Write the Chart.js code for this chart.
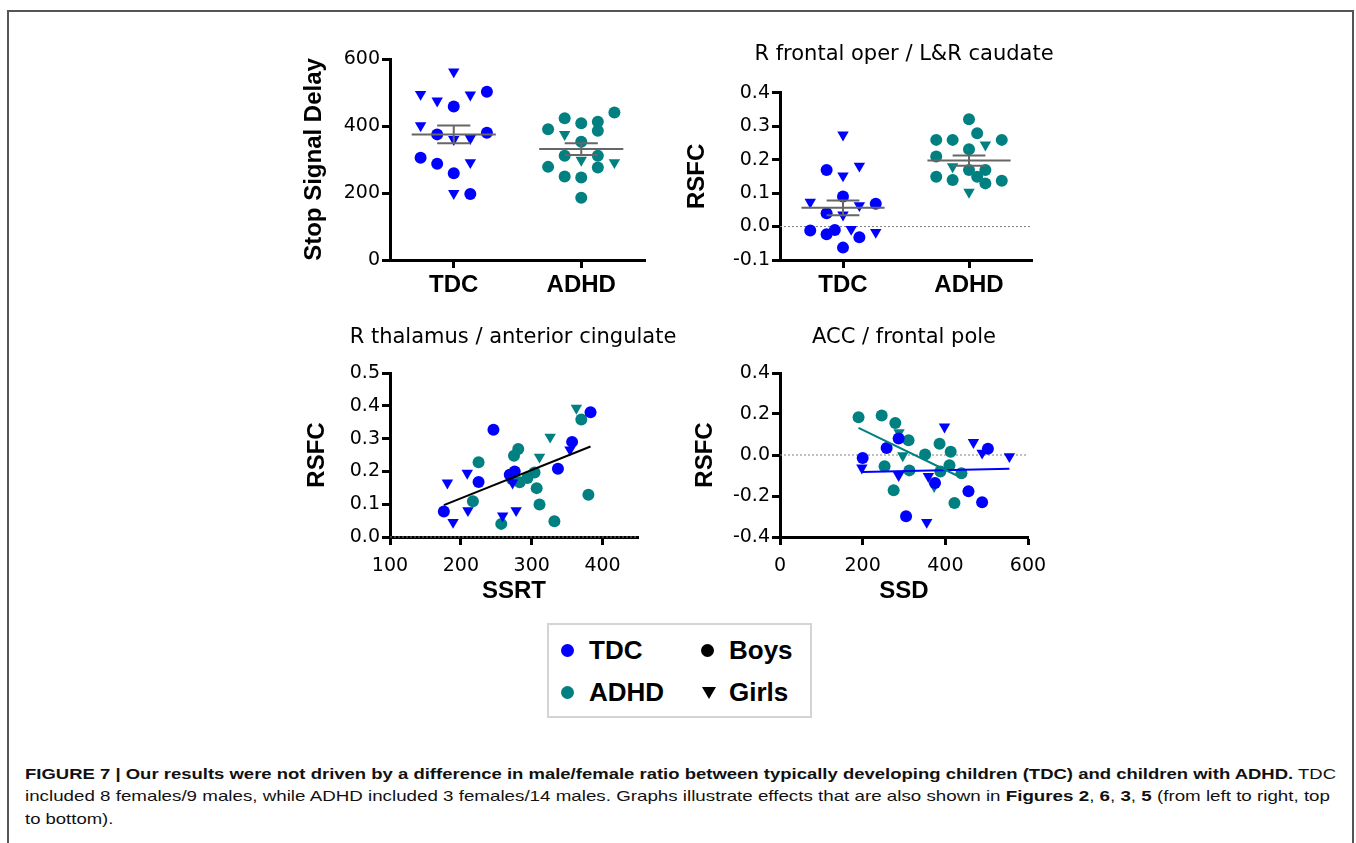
<!DOCTYPE html>
<html>
<head>
<meta charset="utf-8">
<title>Figure 7</title>
<script src="https://cdn.jsdelivr.net/npm/chart.js@4.4.1/dist/chart.umd.min.js"></script>
<style>
  html, body { margin: 0; padding: 0; background: #fff; }
  body { width: 1356px; height: 843px; position: relative; overflow: hidden; }
  .frame { position: absolute; left: 7px; top: 10px; width: 1347px; height: 900px;
           border: 2px solid #555; box-sizing: border-box; }
  canvas.panel { position: absolute; }
  #legend { position: absolute; left: 547px; top: 623px; width: 265px; height: 95px;
            border: 2px solid #d4d4d4; box-sizing: border-box; background: #fff; }
  #legend .dot { position: absolute; width: 13px; height: 13px; border-radius: 50%; }
  #legend .tri { position: absolute; width: 0; height: 0; border-left: 7px solid transparent;
                 border-right: 7px solid transparent; border-top: 12px solid #000; }
  #legend .lab { position: absolute; font: bold 26px/30px 'Liberation Sans', Arial, sans-serif; color: #000; }
  #caption { position: absolute; left: 25px; top: 763px; color: #111;
             font: 15px/22.3px 'Liberation Sans Narrow', 'Arial Narrow', 'Liberation Sans', Arial, sans-serif; }
  #caption .line { display: block; width: max-content; white-space: nowrap; transform-origin: 0 0; }
</style>
</head>
<body>
<div class="frame"></div>

<canvas id="chart-ssd" class="panel" width="370" height="300" style="left:290px;top:20px"></canvas>
<canvas id="chart-fr" class="panel" width="400" height="300" style="left:680px;top:20px"></canvas>
<canvas id="chart-th" class="panel" width="400" height="300" style="left:290px;top:310px"></canvas>
<canvas id="chart-acc" class="panel" width="400" height="300" style="left:680px;top:310px"></canvas>

<div id="legend">
  <span class="dot" style="left:11.5px;top:18.5px;background:#0000ff"></span>
  <span class="lab" style="left:40px;top:10px">TDC</span>
  <span class="dot" style="left:151.5px;top:18.5px;background:#000"></span>
  <span class="lab" style="left:180px;top:10px">Boys</span>
  <span class="dot" style="left:11.5px;top:60.5px;background:#008080"></span>
  <span class="lab" style="left:40px;top:52px">ADHD</span>
  <span class="tri" style="left:153px;top:62px"></span>
  <span class="lab" style="left:180px;top:52px">Girls</span>
</div>

<div id="caption">
  <span class="line"><b>FIGURE 7 | Our results were not driven by a difference in male/female ratio between typically developing children (TDC) and children with ADHD.</b> TDC</span>
  <span class="line">included 8 females/9 males, while ADHD included 3 females/14 males. Graphs illustrate effects that are also shown in <b>Figures 2</b>, <b>6</b>, <b>3</b>, <b>5</b> (from left to right, top</span>
  <span class="line">to bottom).</span>
</div>

<script>
// ── Data ─────────────────────────────────────────────────────────
const groups = ['TDC', 'ADHD'];

// Top left: Stop Signal Delay (slot = column of the dot in its group)
const ssdTdcBoys = [458, 502, 375, 380, 305, 287, 259, 197];
const ssdTdcBoysSlot = [0, 2, -1, 2, -2, -1, 0, 1];
const ssdTdcGirls = [562, 495, 475, 493, 401, 360, 363, 291, 199];
const ssdTdcGirlsSlot = [0, -2, -1, 1, -2, 0, 1, 1, 0];
const ssdAdhdBoys = [423, 408, 413, 440, 390, 386, 353, 311, 311, 278, 276, 249, 246, 186];
const ssdAdhdBoysSlot = [-1, 0, 1, 2, -2, 1, 0, -1, 1, -2, 1, -1, 0, 0];
const ssdAdhdGirls = [375, 298, 291];
const ssdAdhdGirlsSlot = [-1, 0, 2];
const ssdMean = [375, 331];
const ssdSem = [26.5, 17.5];
const ssdTicks = [0, 200, 400, 600];

// Top right: R frontal oper / L&R caudate
const frTdcBoys = [0.169, 0.090, 0.068, 0.040, -0.012, -0.023, -0.010, -0.032, -0.063];
const frTdcBoysSlot = [-1, 0, 2, -1, -2, -1, -0.5, 1, 0];
const frTdcGirls = [0.274, 0.152, 0.181, 0.073, 0.063, 0.035, -0.008, -0.017];
const frTdcGirlsSlot = [0, 0, 1, -2, 1, 0, 0.5, 2];
const frAdhdBoys = [0.321, 0.259, 0.259, 0.279, 0.259, 0.231, 0.209, 0.169, 0.169, 0.149, 0.139, 0.149, 0.129, 0.137];
const frAdhdBoysSlot = [0, -2, -1, 0.5, 2, 0, -2, 0, 1, -2, -1, 0.5, 1, 2];
const frAdhdGirls = [0.244, 0.179, 0.103];
const frAdhdGirlsSlot = [1, -1, 0];
const frMean = [0.056, 0.197];
const frSem = [0.022, 0.015];
const frTicks = [-0.1, 0, 0.1, 0.2, 0.3, 0.4];

// Bottom left: R thalamus / anterior cingulate vs SSRT
const thTdcBoysX = [176, 225, 246, 269, 276, 337, 357, 383];
const thTdcBoysY = [0.078, 0.168, 0.327, 0.19, 0.20, 0.208, 0.29, 0.38];
const thTdcGirlsX = [181, 189, 209, 210, 259, 273, 278, 354];
const thTdcGirlsY = [0.165, 0.045, 0.195, 0.081, 0.065, 0.165, 0.081, 0.266];
const thAdhdBoysX = [217, 225, 257, 272, 275, 281, 283, 294, 304, 307, 311, 332, 370, 380];
const thAdhdBoysY = [0.109, 0.228, 0.04, 0.177, 0.248, 0.268, 0.167, 0.18, 0.197, 0.149, 0.099, 0.048, 0.358, 0.129];
const thAdhdGirlsX = [311, 326, 363];
const thAdhdGirlsY = [0.244, 0.305, 0.393];
const thFitX = [176, 383];
const thFitY = [0.097, 0.276];
const ssrtTicks = [100, 200, 300, 400];
const thTicks = [0, 0.1, 0.2, 0.3, 0.4, 0.5];

// Bottom right: ACC / frontal pole vs SSD
const acTdcBoysX = [200, 258, 287, 305, 375, 456, 489, 503];
const acTdcBoysY = [-0.015, 0.034, 0.08, -0.299, -0.137, -0.177, -0.23, 0.031];
const acTdcGirlsX = [198, 287, 355, 359, 398, 468, 489, 555];
const acTdcGirlsY = [-0.063, -0.099, -0.328, -0.104, 0.137, 0.062, 0.01, -0.007];
const acAdhdBoysX = [190, 246, 253, 275, 279, 311, 313, 351, 386, 388, 410, 413, 422, 439];
const acAdhdBoysY = [0.184, 0.193, -0.055, -0.172, 0.156, 0.072, -0.075, 0.002, 0.055, -0.08, -0.05, 0.016, -0.234, -0.089];
const acAdhdGirlsX = [288, 297, 373];
const acAdhdGirlsY = [0.11, -0.003, -0.153];
const acFitTdcX = [200, 555];
const acFitTdcY = [-0.083, -0.067];
const acFitAdhdX = [190, 428];
const acFitAdhdY = [0.132, -0.10];
const ssdXTicks = [0, 200, 400, 600];
const acTicks = [-0.4, -0.2, 0, 0.2, 0.4];

// ── Styling ──────────────────────────────────────────────────────
const BLUE = '#0000ff';
const TEAL = '#008080';
const GREY = '#666';
const REG = "'DejaVu Sans', sans-serif";
const BOLD = "'Liberation Sans', Arial, sans-serif";
const SLOT = 0.13;        // horizontal step between dot columns
const MEAN_HALF = 0.33;   // half width of mean line
const CAP_HALF = 0.13;    // half width of SEM caps

Chart.defaults.color = '#000';

function xy(xs, ys) {
  return xs.map((x, i) => ({ x, y: ys[i] }));
}

function column(values, slots, g) {
  return values.map((v, i) => ({ x: g + 1 + slots[i] * SLOT, y: v }));
}

function markers(data, color, girl) {
  return {
    data,
    showLine: false,
    pointStyle: girl ? 'triangle' : 'circle',
    pointRotation: girl ? 180 : 0,
    pointRadius: girl ? 6.6 : 6,
    pointBackgroundColor: color,
    pointBorderWidth: 0,
    clip: false,
    order: 1,
  };
}

function segment(data, color, width, dash, order) {
  return {
    data,
    showLine: true,
    borderColor: color,
    borderWidth: width,
    borderDash: dash || [],
    pointRadius: 0,
    clip: false,
    order: order === undefined ? 0 : order,
  };
}

function errorBars(g, mean, sem) {
  const c = g + 1;
  return [
    segment([{ x: c - MEAN_HALF, y: mean }, { x: c + MEAN_HALF, y: mean }], GREY, 2),
    segment([{ x: c - CAP_HALF, y: mean + sem }, { x: c + CAP_HALF, y: mean + sem }], GREY, 2),
    segment([{ x: c - CAP_HALF, y: mean - sem }, { x: c + CAP_HALF, y: mean - sem }], GREY, 2),
    segment([{ x: c, y: mean - sem }, { x: c, y: mean + sem }], GREY, 2),
  ];
}

function zeroLine(x0, x1) {
  return segment([{ x: x0, y: 0 }, { x: x1, y: 0 }], '#808080', 1, [2, 2], 2);
}

function axis(o) {
  const horizontal = o.position === 'bottom';
  return {
    type: 'linear',
    position: o.position,
    min: o.min,
    max: o.max,
    afterBuildTicks: (s) => { s.ticks = o.ticks.map((v) => ({ value: v })); },
    afterFit: (s) => { if (horizontal) s.height = o.size; else s.width = o.size; },
    ticks: {
      callback: o.format,
      font: o.tickFont,
      color: '#000',
      padding: o.tickPad,
      autoSkip: false,
      maxRotation: 0,
    },
    grid: {
      drawOnChartArea: false,
      drawTicks: true,
      tickLength: 8,
      tickWidth: 3,
      tickColor: '#000',
    },
    border: { display: true, color: '#000', width: 3 },
    title: {
      display: !!o.title,
      text: o.title,
      color: '#000',
      font: { family: BOLD, size: 24, weight: 'bold' },
      padding: o.titlePad || 0,
    },
  };
}

// Panel heading, centred over the plot area
const headingPlugin = {
  id: 'panelHeading',
  afterDraw(chart, args, opts) {
    if (!opts.text) return;
    const { ctx, chartArea } = chart;
    ctx.save();
    ctx.font = '21px ' + REG;
    ctx.fillStyle = '#000';
    ctx.textAlign = 'center';
    ctx.textBaseline = 'middle';
    ctx.fillText(opts.text, (chartArea.left + chartArea.right) / 2 + (opts.dx || 0), opts.y);
    ctx.restore();
  },
};

function makeChart(id, datasets, x, y, pad, heading) {
  return new Chart(document.getElementById(id), {
    type: 'scatter',
    data: { datasets },
    plugins: [headingPlugin],
    options: {
      responsive: false,
      animation: false,
      events: [],
      layout: { padding: pad },
      plugins: {
        legend: { display: false },
        tooltip: { enabled: false },
        panelHeading: heading || {},
      },
      scales: { x, y },
    },
  });
}

const tickReg = { family: REG, size: 19 };
const tickBold = { family: BOLD, size: 24, weight: 'bold' };
const groupLabel = (v) => groups[v - 1];
const oneDecimal = (v) => v.toFixed(1);
const plain = (v) => String(v);

// ── Top left ─────────────────────────────────────────────────────
makeChart('chart-ssd', [
  ...errorBars(0, ssdMean[0], ssdSem[0]),
  ...errorBars(1, ssdMean[1], ssdSem[1]),
  markers(column(ssdTdcBoys, ssdTdcBoysSlot, 0), BLUE, false),
  markers(column(ssdTdcGirls, ssdTdcGirlsSlot, 0), BLUE, true),
  markers(column(ssdAdhdBoys, ssdAdhdBoysSlot, 1), TEAL, false),
  markers(column(ssdAdhdGirls, ssdAdhdGirlsSlot, 1), TEAL, true),
],
  axis({ position: 'bottom', min: 0.5, max: 2.5, ticks: [1, 2], format: groupLabel,
         tickFont: tickBold, tickPad: 3, size: 60 }),
  axis({ position: 'left', min: 0, max: 600, ticks: ssdTicks, format: plain,
         tickFont: tickReg, tickPad: 2, size: 100, title: 'Stop Signal Delay',
         titlePad: { top: 9.6 } }),
  { top: 39, right: 15, bottom: 0, left: 0 });

// ── Top right ────────────────────────────────────────────────────
makeChart('chart-fr', [
  ...errorBars(0, frMean[0], frSem[0]),
  ...errorBars(1, frMean[1], frSem[1]),
  markers(column(frTdcBoys, frTdcBoysSlot, 0), BLUE, false),
  markers(column(frTdcGirls, frTdcGirlsSlot, 0), BLUE, true),
  markers(column(frAdhdBoys, frAdhdBoysSlot, 1), TEAL, false),
  markers(column(frAdhdGirls, frAdhdGirlsSlot, 1), TEAL, true),
  zeroLine(0.5, 2.5),
],
  axis({ position: 'bottom', min: 0.5, max: 2.5, ticks: [1, 2], format: groupLabel,
         tickFont: tickBold, tickPad: 3, size: 60 }),
  axis({ position: 'left', min: -0.1, max: 0.4, ticks: frTicks, format: oneDecimal,
         tickFont: tickReg, tickPad: 2, size: 100, title: 'RSFC', titlePad: { top: 2.6 } }),
  { top: 72.7, right: 48, bottom: 0, left: 0 },
  { text: 'R frontal oper / L&R caudate', y: 35, dx: -2 });

// ── Bottom left ──────────────────────────────────────────────────
makeChart('chart-th', [
  segment(xy(thFitX, thFitY), '#000', 2),
  markers(xy(thTdcBoysX, thTdcBoysY), BLUE, false),
  markers(xy(thTdcGirlsX, thTdcGirlsY), BLUE, true),
  markers(xy(thAdhdBoysX, thAdhdBoysY), TEAL, false),
  markers(xy(thAdhdGirlsX, thAdhdGirlsY), TEAL, true),
  zeroLine(100, 450),
],
  axis({ position: 'bottom', min: 100, max: 450, ticks: ssrtTicks, format: plain,
         tickFont: tickReg, tickPad: 10, size: 73, title: 'SSRT', titlePad: { bottom: 4.5 } }),
  axis({ position: 'left', min: 0, max: 0.5, ticks: thTicks, format: oneDecimal,
         tickFont: tickReg, tickPad: 2, size: 100, title: 'RSFC', titlePad: { top: 12.6 } }),
  { top: 63, right: 52, bottom: 0, left: 0 },
  { text: 'R thalamus / anterior cingulate', y: 28, dx: -1 });

// ── Bottom right ─────────────────────────────────────────────────
makeChart('chart-acc', [
  segment(xy(acFitAdhdX, acFitAdhdY), TEAL, 2),
  segment(xy(acFitTdcX, acFitTdcY), BLUE, 2),
  markers(xy(acTdcBoysX, acTdcBoysY), BLUE, false),
  markers(xy(acTdcGirlsX, acTdcGirlsY), BLUE, true),
  markers(xy(acAdhdBoysX, acAdhdBoysY), TEAL, false),
  markers(xy(acAdhdGirlsX, acAdhdGirlsY), TEAL, true),
  zeroLine(0, 600),
],
  axis({ position: 'bottom', min: 0, max: 600, ticks: ssdXTicks, format: plain,
         tickFont: tickReg, tickPad: 10, size: 73, title: 'SSD', titlePad: { bottom: 4.5 } }),
  axis({ position: 'left', min: -0.4, max: 0.4, ticks: acTicks, format: oneDecimal,
         tickFont: tickReg, tickPad: 2, size: 100, title: 'RSFC', titlePad: { top: 10.6 } }),
  { top: 63, right: 52, bottom: 0, left: 0 },
  { text: 'ACC / frontal pole', y: 28, dx: 0 });

// ── Caption: fit each line to the width it has in the figure ─────
(function fitCaption() {
  const lines = document.querySelectorAll('#caption .line');
  const targets = [1311, 1305, null];
  let first = 1;
  lines.forEach((el, i) => {
    const w = el.getBoundingClientRect().width;
    const s = targets[i] ? targets[i] / w : first;
    if (i === 0) first = s;
    el.style.transform = 'scaleX(' + s + ')';
  });
})();
</script>
</body>
</html>
